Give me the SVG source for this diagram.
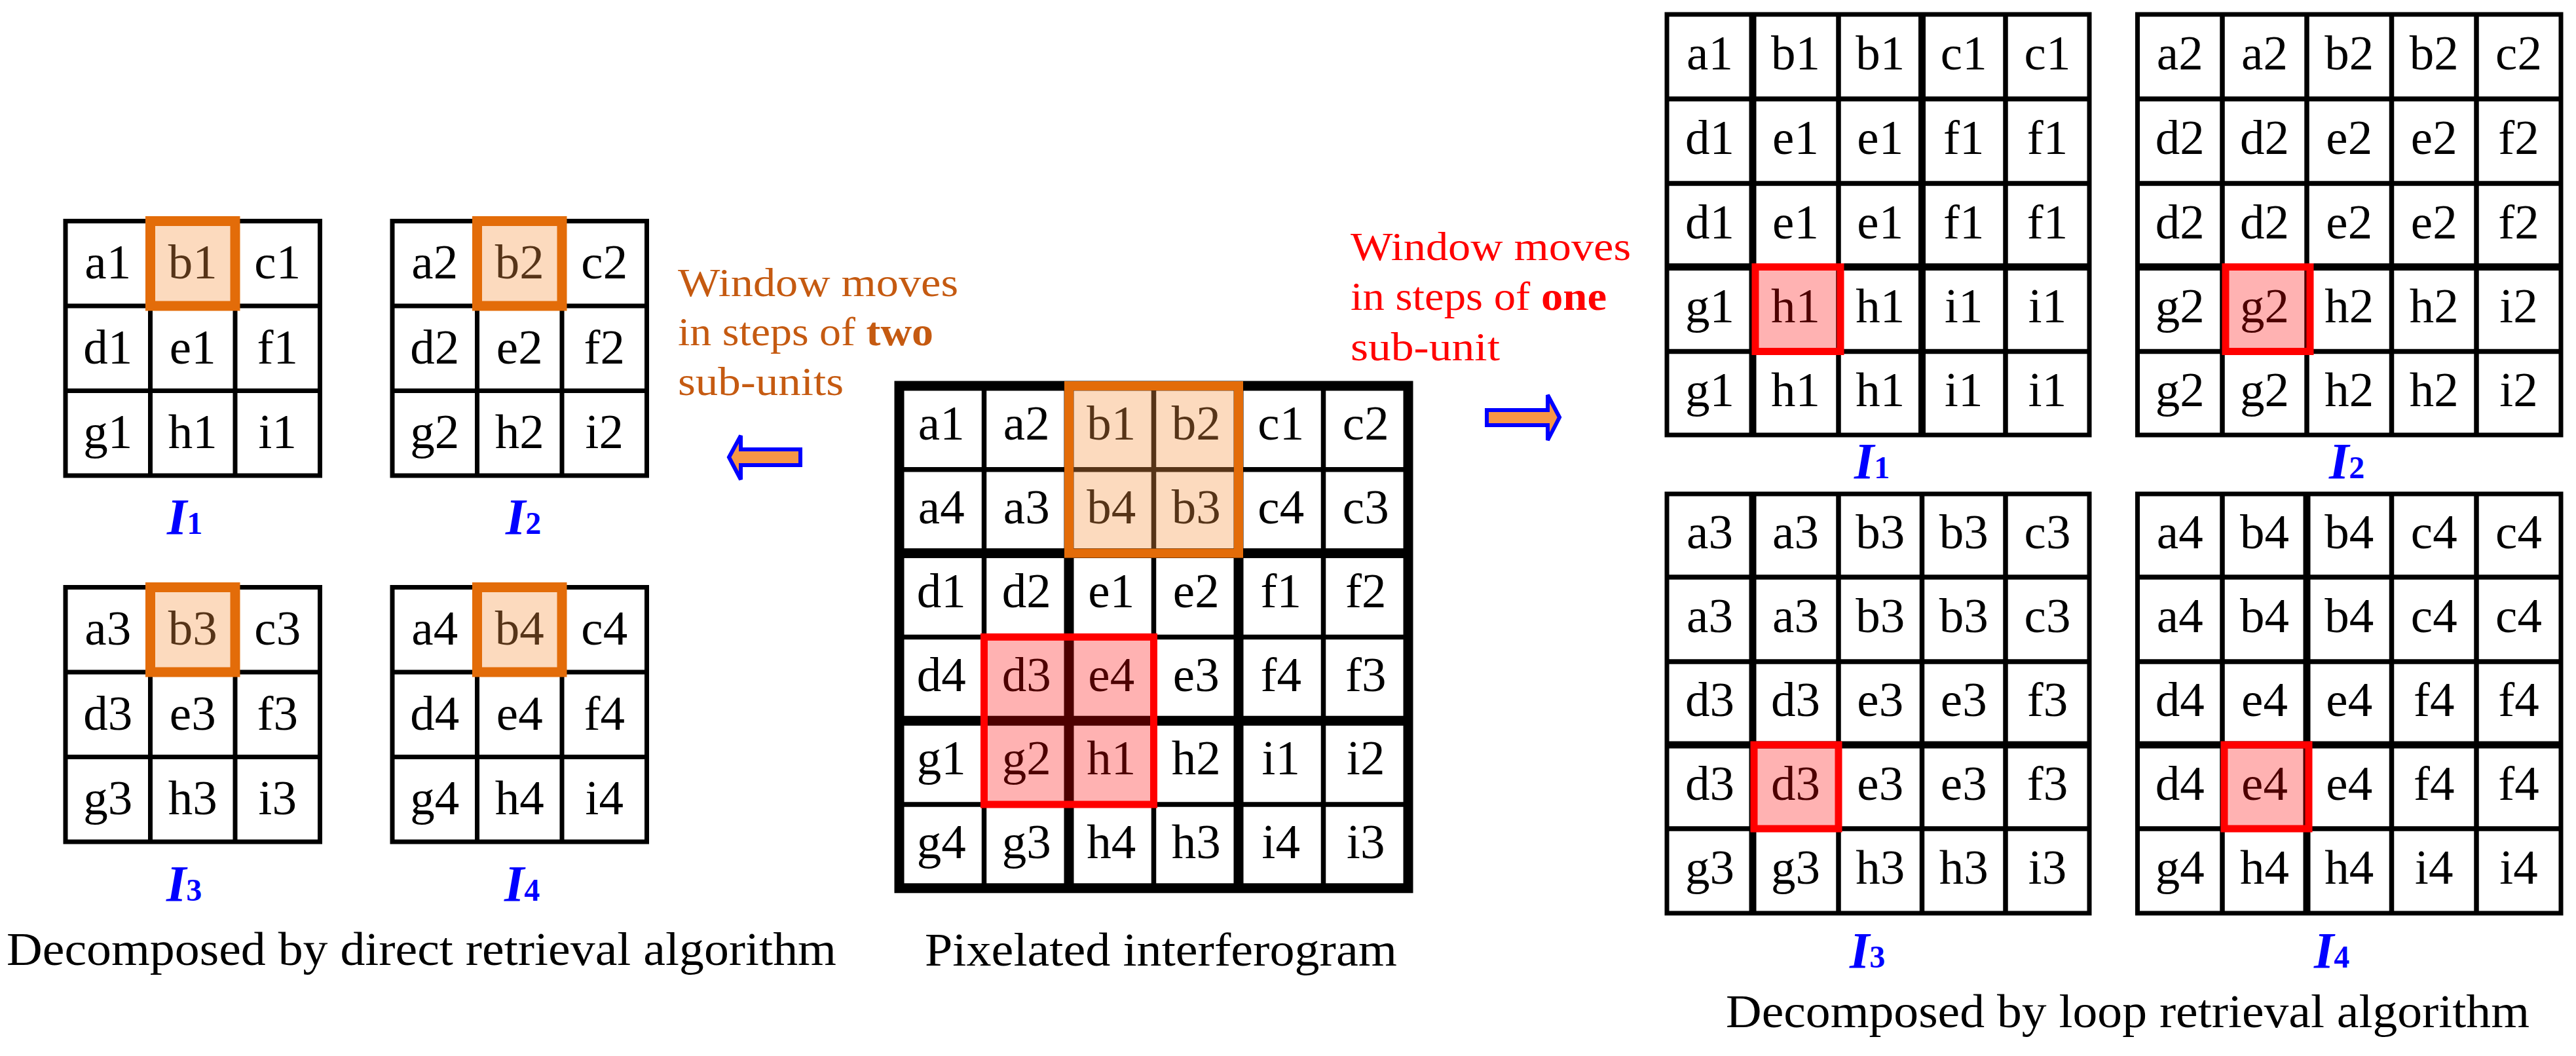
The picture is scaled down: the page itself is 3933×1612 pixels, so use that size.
<svg xmlns="http://www.w3.org/2000/svg" width="3933" height="1612" viewBox="0 0 3933 1612">
<style>
.bg{fill:#fff}
.g7{fill:none;stroke:#000;stroke-width:7}
.g75{fill:none;stroke:#000;stroke-width:7.5}
.g11{fill:none;stroke:#000;stroke-width:11}
.g15{fill:none;stroke:#000;stroke-width:15}
.c{font-family:"Liberation Serif","DejaVu Serif",serif;font-size:75px;text-anchor:middle;fill:#000}
.lbl{font-family:"Liberation Serif","DejaVu Serif",serif;font-size:78px;font-weight:bold;font-style:italic;fill:#0000FF}
.sub{font-size:48px;font-style:normal}
.hlo{fill:#F79646;fill-opacity:.35;stroke:#E36C09;stroke-width:15}
.hlo2{fill:#F79646;fill-opacity:.35;stroke:#E36C09;stroke-width:14}
.hlr{fill:#FF0000;fill-opacity:.3;stroke:#FF0000;stroke-width:11}
.note{font-family:"Liberation Serif","DejaVu Serif",serif;font-size:62px}
.or{fill:#C55A11}
.rd{fill:#FF0000}
.cap{font-family:"Liberation Serif","DejaVu Serif",serif;font-size:71px;fill:#000}
.arr{fill:#F79646;stroke:#0000FF;stroke-width:6;stroke-linejoin:miter}
</style>
<rect class="bg" x="0" y="0" width="3933" height="1612"/>

<!-- Direct retrieval: 3x3 grids -->
<g id="direct-I1">
<rect class="g7" x="100" y="337.5" width="388.5" height="388.5"/>
<path class="g7" d="M229.5,337.5V726M359,337.5V726M100,467H488.5M100,596.5H488.5"/>
<text class="c" x="164.75" y="425">a1</text><text class="c" x="294.25" y="425">b1</text><text class="c" x="423.75" y="425">c1</text>
<text class="c" x="164.75" y="554.5">d1</text><text class="c" x="294.25" y="554.5">e1</text><text class="c" x="423.75" y="554.5">f1</text>
<text class="c" x="164.75" y="684">g1</text><text class="c" x="294.25" y="684">h1</text><text class="c" x="423.75" y="684">i1</text>
<rect class="hlo" x="229.5" y="337.5" width="129.5" height="129.5"/>
<text class="lbl" x="255" y="815">I<tspan class="sub">1</tspan></text>
</g>
<g id="direct-I2">
<rect class="g7" x="599" y="337.5" width="388.5" height="388.5"/>
<path class="g7" d="M728.5,337.5V726M858,337.5V726M599,467H987.5M599,596.5H987.5"/>
<text class="c" x="663.75" y="425">a2</text><text class="c" x="793.25" y="425">b2</text><text class="c" x="922.75" y="425">c2</text>
<text class="c" x="663.75" y="554.5">d2</text><text class="c" x="793.25" y="554.5">e2</text><text class="c" x="922.75" y="554.5">f2</text>
<text class="c" x="663.75" y="684">g2</text><text class="c" x="793.25" y="684">h2</text><text class="c" x="922.75" y="684">i2</text>
<rect class="hlo" x="728.5" y="337.5" width="129.5" height="129.5"/>
<text class="lbl" x="772" y="815">I<tspan class="sub">2</tspan></text>
</g>
<g id="direct-I3">
<rect class="g7" x="100" y="896.5" width="388.5" height="388.5"/>
<path class="g7" d="M229.5,896.5V1285M359,896.5V1285M100,1026H488.5M100,1155.5H488.5"/>
<text class="c" x="164.75" y="984">a3</text><text class="c" x="294.25" y="984">b3</text><text class="c" x="423.75" y="984">c3</text>
<text class="c" x="164.75" y="1113.5">d3</text><text class="c" x="294.25" y="1113.5">e3</text><text class="c" x="423.75" y="1113.5">f3</text>
<text class="c" x="164.75" y="1243">g3</text><text class="c" x="294.25" y="1243">h3</text><text class="c" x="423.75" y="1243">i3</text>
<rect class="hlo" x="229.5" y="896.5" width="129.5" height="129.5"/>
<text class="lbl" x="254" y="1375">I<tspan class="sub">3</tspan></text>
</g>
<g id="direct-I4">
<rect class="g7" x="599" y="896.5" width="388.5" height="388.5"/>
<path class="g7" d="M728.5,896.5V1285M858,896.5V1285M599,1026H987.5M599,1155.5H987.5"/>
<text class="c" x="663.75" y="984">a4</text><text class="c" x="793.25" y="984">b4</text><text class="c" x="922.75" y="984">c4</text>
<text class="c" x="663.75" y="1113.5">d4</text><text class="c" x="793.25" y="1113.5">e4</text><text class="c" x="922.75" y="1113.5">f4</text>
<text class="c" x="663.75" y="1243">g4</text><text class="c" x="793.25" y="1243">h4</text><text class="c" x="922.75" y="1243">i4</text>
<rect class="hlo" x="728.5" y="896.5" width="129.5" height="129.5"/>
<text class="lbl" x="770" y="1375">I<tspan class="sub">4</tspan></text>
</g>
<g id="caption-direct">
<text class="cap" x="10" y="1473" textLength="1267" lengthAdjust="spacingAndGlyphs">Decomposed by direct retrieval algorithm</text>
</g>

<!-- Notes -->
<g id="note-two">
<text class="note or" x="1035" y="452" textLength="428" lengthAdjust="spacingAndGlyphs">Window moves</text>
<text class="note or" x="1035" y="527" textLength="390" lengthAdjust="spacingAndGlyphs">in steps of <tspan font-weight="bold">two</tspan></text>
<text class="note or" x="1035" y="603" textLength="253" lengthAdjust="spacingAndGlyphs">sub-units</text>
</g>
<g id="note-one">
<text class="note rd" x="2062" y="397" textLength="428" lengthAdjust="spacingAndGlyphs">Window moves</text>
<text class="note rd" x="2062" y="473" textLength="391" lengthAdjust="spacingAndGlyphs">in steps of <tspan font-weight="bold">one</tspan></text>
<text class="note rd" x="2062" y="550" textLength="228" lengthAdjust="spacingAndGlyphs">sub-unit</text>
</g>

<!-- Pixelated interferogram -->
<g id="pixelated">
<path class="g75" d="M1502.5,589V1355.8M1761.5,589V1355.8M2020.5,589V1355.8M1373,716.8H2150M1373,972.4H2150M1373,1228H2150"/>
<path class="g15" d="M1632,589V1355.8M1891,589V1355.8M1373,844.6H2150M1373,1100.2H2150"/>
<rect class="g15" x="1373" y="589" width="777" height="766.8"/>
<text class="c" x="1437.25" y="671">a1</text><text class="c" x="1567.25" y="671">a2</text><text class="c" x="1696.75" y="671">b1</text><text class="c" x="1826.25" y="671">b2</text><text class="c" x="1955.75" y="671">c1</text><text class="c" x="2085.25" y="671">c2</text>
<text class="c" x="1437.25" y="799">a4</text><text class="c" x="1567.25" y="799">a3</text><text class="c" x="1696.75" y="799">b4</text><text class="c" x="1826.25" y="799">b3</text><text class="c" x="1955.75" y="799">c4</text><text class="c" x="2085.25" y="799">c3</text>
<text class="c" x="1437.25" y="926.5">d1</text><text class="c" x="1567.25" y="926.5">d2</text><text class="c" x="1696.75" y="926.5">e1</text><text class="c" x="1826.25" y="926.5">e2</text><text class="c" x="1955.75" y="926.5">f1</text><text class="c" x="2085.25" y="926.5">f2</text>
<text class="c" x="1437.25" y="1054.5">d4</text><text class="c" x="1567.25" y="1054.5">d3</text><text class="c" x="1696.75" y="1054.5">e4</text><text class="c" x="1826.25" y="1054.5">e3</text><text class="c" x="1955.75" y="1054.5">f4</text><text class="c" x="2085.25" y="1054.5">f3</text>
<text class="c" x="1437.25" y="1182">g1</text><text class="c" x="1567.25" y="1182">g2</text><text class="c" x="1696.75" y="1182">h1</text><text class="c" x="1826.25" y="1182">h2</text><text class="c" x="1955.75" y="1182">i1</text><text class="c" x="2085.25" y="1182">i2</text>
<text class="c" x="1437.25" y="1310">g4</text><text class="c" x="1567.25" y="1310">g3</text><text class="c" x="1696.75" y="1310">h4</text><text class="c" x="1826.25" y="1310">h3</text><text class="c" x="1955.75" y="1310">i4</text><text class="c" x="2085.25" y="1310">i3</text>
<rect class="hlo2" x="1632" y="589" width="259" height="255.6"/>
<rect class="hlr" x="1502.5" y="972.4" width="259" height="255.6"/>
<text class="cap" x="1412" y="1474" textLength="721" lengthAdjust="spacingAndGlyphs">Pixelated interferogram</text>
</g>

<!-- Loop retrieval: 5x5 grids -->
<g id="loop-I1">
<rect class="g7" x="2545" y="22" width="645" height="642"/>
<path class="g75" d="M2807,22V664M3062,22V664M2545,151H3190M2545,280H3190M2545,536.5H3190"/>
<path class="g11" d="M2676,22V664M2934.5,22V664M2545,407.5H3190"/>
<text class="c" x="2610.5" y="106">a1</text><text class="c" x="2741.5" y="106">b1</text><text class="c" x="2870.75" y="106">b1</text><text class="c" x="2998.25" y="106">c1</text><text class="c" x="3126" y="106">c1</text>
<text class="c" x="2610.5" y="235">d1</text><text class="c" x="2741.5" y="235">e1</text><text class="c" x="2870.75" y="235">e1</text><text class="c" x="2998.25" y="235">f1</text><text class="c" x="3126" y="235">f1</text>
<text class="c" x="2610.5" y="363.5">d1</text><text class="c" x="2741.5" y="363.5">e1</text><text class="c" x="2870.75" y="363.5">e1</text><text class="c" x="2998.25" y="363.5">f1</text><text class="c" x="3126" y="363.5">f1</text>
<text class="c" x="2610.5" y="491.5">g1</text><text class="c" x="2741.5" y="491.5">h1</text><text class="c" x="2870.75" y="491.5">h1</text><text class="c" x="2998.25" y="491.5">i1</text><text class="c" x="3126" y="491.5">i1</text>
<text class="c" x="2610.5" y="620">g1</text><text class="c" x="2741.5" y="620">h1</text><text class="c" x="2870.75" y="620">h1</text><text class="c" x="2998.25" y="620">i1</text><text class="c" x="3126" y="620">i1</text>
<rect class="hlr" x="2680" y="407.5" width="130" height="129"/>
<text class="lbl" x="2831" y="730">I<tspan class="sub">1</tspan></text>
</g>
<g id="loop-I2">
<rect class="g7" x="3263.5" y="22" width="646.5" height="642"/>
<path class="g75" d="M3393,22V664M3522,22V664M3651.5,22V664M3781,22V664M3263.5,151H3910M3263.5,280H3910M3263.5,536.5H3910"/>
<path class="g11" d="M3263.5,407.5H3910"/>
<text class="c" x="3328.25" y="106">a2</text><text class="c" x="3457.5" y="106">a2</text><text class="c" x="3586.75" y="106">b2</text><text class="c" x="3716.25" y="106">b2</text><text class="c" x="3845.5" y="106">c2</text>
<text class="c" x="3328.25" y="235">d2</text><text class="c" x="3457.5" y="235">d2</text><text class="c" x="3586.75" y="235">e2</text><text class="c" x="3716.25" y="235">e2</text><text class="c" x="3845.5" y="235">f2</text>
<text class="c" x="3328.25" y="363.5">d2</text><text class="c" x="3457.5" y="363.5">d2</text><text class="c" x="3586.75" y="363.5">e2</text><text class="c" x="3716.25" y="363.5">e2</text><text class="c" x="3845.5" y="363.5">f2</text>
<text class="c" x="3328.25" y="491.5">g2</text><text class="c" x="3457.5" y="491.5">g2</text><text class="c" x="3586.75" y="491.5">h2</text><text class="c" x="3716.25" y="491.5">h2</text><text class="c" x="3845.5" y="491.5">i2</text>
<text class="c" x="3328.25" y="620">g2</text><text class="c" x="3457.5" y="620">g2</text><text class="c" x="3586.75" y="620">h2</text><text class="c" x="3716.25" y="620">h2</text><text class="c" x="3845.5" y="620">i2</text>
<rect class="hlr" x="3398" y="407.5" width="129" height="129"/>
<text class="lbl" x="3556" y="730">I<tspan class="sub">2</tspan></text>
</g>
<g id="loop-I3">
<rect class="g7" x="2545" y="754" width="645" height="640"/>
<path class="g75" d="M2807,754V1394M2934.5,754V1394M3062,754V1394M2545,881H3190M2545,1010H3190M2545,1265H3190"/>
<path class="g11" d="M2676,754V1394M2545,1137H3190"/>
<text class="c" x="2610.5" y="837">a3</text><text class="c" x="2741.5" y="837">a3</text><text class="c" x="2870.75" y="837">b3</text><text class="c" x="2998.25" y="837">b3</text><text class="c" x="3126" y="837">c3</text>
<text class="c" x="2610.5" y="965">a3</text><text class="c" x="2741.5" y="965">a3</text><text class="c" x="2870.75" y="965">b3</text><text class="c" x="2998.25" y="965">b3</text><text class="c" x="3126" y="965">c3</text>
<text class="c" x="2610.5" y="1093">d3</text><text class="c" x="2741.5" y="1093">d3</text><text class="c" x="2870.75" y="1093">e3</text><text class="c" x="2998.25" y="1093">e3</text><text class="c" x="3126" y="1093">f3</text>
<text class="c" x="2610.5" y="1220.5">d3</text><text class="c" x="2741.5" y="1220.5">d3</text><text class="c" x="2870.75" y="1220.5">e3</text><text class="c" x="2998.25" y="1220.5">e3</text><text class="c" x="3126" y="1220.5">f3</text>
<text class="c" x="2610.5" y="1349">g3</text><text class="c" x="2741.5" y="1349">g3</text><text class="c" x="2870.75" y="1349">h3</text><text class="c" x="2998.25" y="1349">h3</text><text class="c" x="3126" y="1349">i3</text>
<rect class="hlr" x="2678" y="1137" width="129" height="128"/>
<text class="lbl" x="2824" y="1477">I<tspan class="sub">3</tspan></text>
</g>
<g id="loop-I4">
<rect class="g7" x="3263.5" y="754" width="646.5" height="640"/>
<path class="g75" d="M3393,754V1394M3651.5,754V1394M3781,754V1394M3263.5,881H3910M3263.5,1010H3910M3263.5,1265H3910"/>
<path class="g11" d="M3522,754V1394M3263.5,1137H3910"/>
<text class="c" x="3328.25" y="837">a4</text><text class="c" x="3457.5" y="837">b4</text><text class="c" x="3586.75" y="837">b4</text><text class="c" x="3716.25" y="837">c4</text><text class="c" x="3845.5" y="837">c4</text>
<text class="c" x="3328.25" y="965">a4</text><text class="c" x="3457.5" y="965">b4</text><text class="c" x="3586.75" y="965">b4</text><text class="c" x="3716.25" y="965">c4</text><text class="c" x="3845.5" y="965">c4</text>
<text class="c" x="3328.25" y="1093">d4</text><text class="c" x="3457.5" y="1093">e4</text><text class="c" x="3586.75" y="1093">e4</text><text class="c" x="3716.25" y="1093">f4</text><text class="c" x="3845.5" y="1093">f4</text>
<text class="c" x="3328.25" y="1220.5">d4</text><text class="c" x="3457.5" y="1220.5">e4</text><text class="c" x="3586.75" y="1220.5">e4</text><text class="c" x="3716.25" y="1220.5">f4</text><text class="c" x="3845.5" y="1220.5">f4</text>
<text class="c" x="3328.25" y="1349">g4</text><text class="c" x="3457.5" y="1349">h4</text><text class="c" x="3586.75" y="1349">h4</text><text class="c" x="3716.25" y="1349">i4</text><text class="c" x="3845.5" y="1349">i4</text>
<rect class="hlr" x="3396" y="1137" width="129" height="128"/>
<text class="lbl" x="3533" y="1477">I<tspan class="sub">4</tspan></text>
</g>
<g id="caption-loop">
<text class="cap" x="2635" y="1568" textLength="1227" lengthAdjust="spacingAndGlyphs">Decomposed by loop retrieval algorithm</text>
</g>

<!-- Connectors -->
<g id="connectors">
<path class="arr" d="M1113,698L1131,665V686H1222V710H1131V732Z"/>
<path class="arr" d="M2381,637L2363,603V626H2270V649H2363V672Z"/>
</g>
</svg>
